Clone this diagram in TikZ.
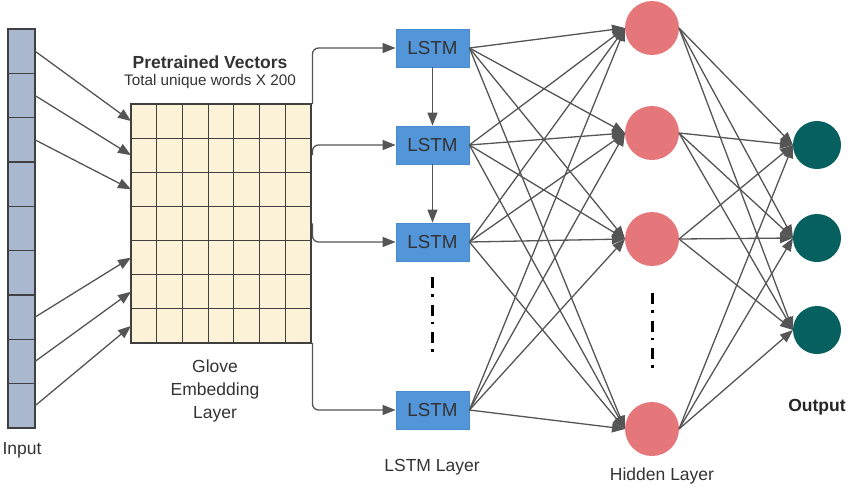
\documentclass[tikz,border=0pt]{standalone}
\usepackage{fontspec}
\setmainfont{Liberation Sans}
\usetikzlibrary{arrows.meta}
\definecolor{edgegray}{HTML}{555555}
\definecolor{incol}{HTML}{AAB8CF}
\definecolor{gridcol}{HTML}{FBF2D8}
\definecolor{lstmcol}{HTML}{5295D8}
\definecolor{lstmbord}{HTML}{4A8AD0}
\definecolor{hidcol}{HTML}{E5777A}
\definecolor{outcol}{HTML}{06605F}
\definecolor{txtcol}{HTML}{333333}
\begin{document}
\begin{tikzpicture}[x=1pt,y=-1pt,
  conn/.style={draw=edgegray, line width=1.3pt, -{Triangle[length=13pt,width=10pt]}},
  incell/.style={draw=black!75, fill=incol, line width=1.4pt, minimum width=27pt, minimum height=44.33pt, inner sep=0pt, outer sep=0pt},
  gcell/.style={draw=black!75, fill=gridcol, line width=1.1pt, minimum width=25.71pt, minimum height=34.14pt, inner sep=0pt, outer sep=0pt},
  lstm/.style={draw=lstmbord, fill=lstmcol, line width=0.8pt, minimum width=73pt, minimum height=38pt, inner sep=0pt, text=txtcol, font=\fontsize{18.8}{20}\selectfont},
  hid/.style={circle, fill=hidcol, minimum size=54pt, inner sep=0pt, outer sep=0pt},
  outn/.style={circle, fill=outcol, minimum size=48pt, inner sep=0pt, outer sep=0pt},
  lbl/.style={text=txtcol, font=\fontsize{17.5}{23}\selectfont, align=center, inner sep=0pt},
  dotline/.style={line width=3pt, black, dash pattern=on 11pt off 6pt on 2.5pt off 8pt}
]
\useasboundingbox (0,0) rectangle (850,488);
% input column
\foreach \i in {1,...,9}
  \node[incell] (in\i) at (21.5, {29+44.33*(\i-0.5)}) {};
% embedding grid
\foreach \r in {1,...,7}
  \foreach \c in {1,...,7}
    \node[gcell] (g\r\c) at ({131+25.714*(\c-0.5)},{104+34.14*(\r-0.5)}) {};
% input arrows
\draw[conn] (in1.east) -- (g11.west);
\draw[conn] (in2.east) -- (g21.west);
\draw[conn] (in3.east) -- (g31.west);
\draw[conn] (in7.east) -- (g51.west);
\draw[conn] (in8.east) -- (g61.west);
\draw[conn] (in9.east) -- (g71.west);
% labels
\node[lbl] (linput) at (22,450) {Input};
\node[lbl, font=\fontsize{17.5}{20}\selectfont\bfseries] (lpre) at (210,62) {Pretrained Vectors};
\node[lbl, font=\fontsize{15.3}{18}\selectfont] (ltot) at (210,82) {Total unique words X 200};
\node[lbl] (lglove) at (215,391) {Glove\\Embedding\\Layer};
\node[lbl] (llstm) at (432,467) {LSTM Layer};
\node[lbl] (lhid) at (662,476) {Hidden Layer};
\node[lbl, text=black!85, font=\fontsize{17.5}{20}\selectfont\bfseries] (lout) at (817,407) {Output};
% LSTM boxes
\node[lstm] (l1) at (432.5,48) {LSTM};
\node[lstm] (l2) at (432.5,145) {LSTM};
\node[lstm] (l3) at (432.5,242) {LSTM};
\node[lstm] (l4) at (432.5,410) {LSTM};
\draw[conn] (l1.south) -- (l2.north);
\draw[conn] (l2.south) -- (l3.north);
% embedding -> LSTM
\draw[conn, rounded corners=6pt] ([xshift=1.5pt]g17.north east) |- (l1.west);
\draw[conn, rounded corners=6pt] ([xshift=1.5pt]g27.east) |- (l2.west);
\draw[conn, rounded corners=6pt] ([xshift=1.5pt]g47.east) |- (l3.west);
\draw[conn, rounded corners=6pt] ([xshift=1.5pt]g77.south east) |- (l4.west);
% dots
\coordinate (d1a) at (432.5,277);
\coordinate (d1b) at (432.5,357);
\draw[dotline] (d1a) -- (d1b);
% hidden and output
\node[hid] (h1) at (652,28) {};
\node[hid] (h2) at (652,133) {};
\node[hid] (h3) at (652,239) {};
\node[hid] (h4) at (652,429) {};
\node[outn] (o1) at (817,145) {};
\node[outn] (o2) at (817,238) {};
\node[outn] (o3) at (817,330) {};
\coordinate (d2a) at (652,293);
\coordinate (d2b) at (652,373);
\draw[dotline] (d2a) -- (d2b);
\foreach \a in {1,...,4}
  \foreach \b in {1,...,4}
    \draw[conn] (l\a.east) -- (h\b.west);
\foreach \a in {1,...,4}
  \foreach \b in {1,2,3}
    \draw[conn] (h\a.east) -- (o\b.west);
\end{tikzpicture}
\end{document}
